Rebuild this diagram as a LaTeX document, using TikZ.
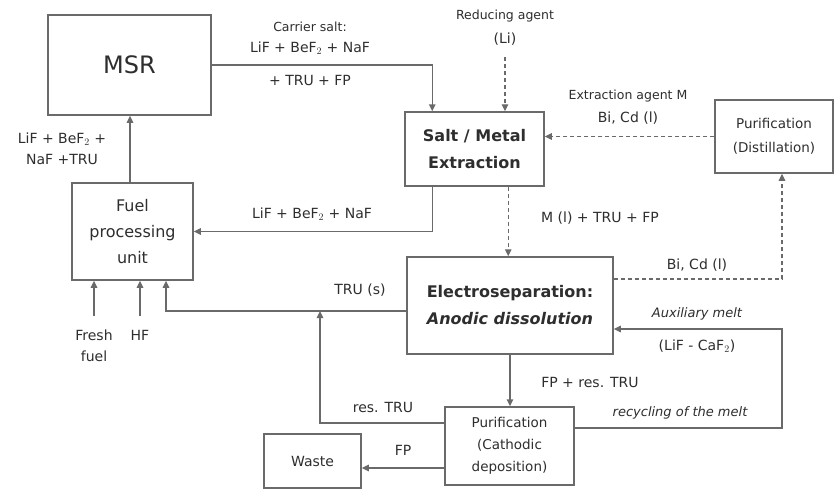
\documentclass[tikz,border=0pt]{standalone}
\usepackage{fontspec}
\setmainfont{DejaVu Sans}
\usetikzlibrary{arrows.meta,calc}
\definecolor{linec}{HTML}{6A6A6A}
\definecolor{txtc}{HTML}{2E2E2E}
\tikzset{
  box/.style={draw=linec,line width=1.5pt,fill=white,align=center,text=txtc,inner sep=2pt},
  lab/.style={text=txtc,align=center,font=\fontsize{14}{21}\selectfont,inner sep=0pt},
  ilab/.style={lab,font=\fontsize{13}{21}\selectfont\itshape},
  arr/.style={draw=linec,line width=1.5pt,-{Triangle[length=7pt,width=6.5pt]}},
  darr/.style={arr,dashed,dash pattern=on 4pt off 3pt,line width=1.1pt},
  dline/.style={draw=linec,dashed,dash pattern=on 4pt off 3pt,line width=1.1pt}
}
\begin{document}
\begin{tikzpicture}[x=1pt,y=-1pt]
\useasboundingbox[fill=white] (0,0) rectangle (837,490);
% boxes
\node[box,minimum width=163pt,minimum height=100pt,font=\fontsize{24}{26}\selectfont] (MSR) at (129.5,65) {MSR};
\node[box,minimum width=139pt,minimum height=74pt,font=\fontsize{16}{27}\selectfont\bfseries] (Salt) at (474.5,149) {Salt / Metal\\Extraction};
\node[box,minimum width=118pt,minimum height=73pt,font=\fontsize{13.5}{24}\selectfont] (Dist) at (774,136.5) {Purification\\(Distillation)};
\node[box,minimum width=121pt,minimum height=97pt,font=\fontsize{16}{26}\selectfont] (Fuel) at (132.5,231.5) {Fuel\\processing\\unit};
\node[box,minimum width=206pt,minimum height=97pt,font=\fontsize{16}{27}\selectfont\bfseries] (Electro) at (510,305.5) {Electroseparation:\\\textit{Anodic dissolution}};
\node[box,minimum width=129pt,minimum height=78pt,font=\fontsize{13.5}{22}\selectfont] (Cath) at (509.5,446) {Purification\\(Cathodic\\deposition)};
\node[box,minimum width=97pt,minimum height=54pt,font=\fontsize{14}{16}\selectfont] (Waste) at (312.5,461) {Waste};
% free labels
\node[lab,font=\fontsize{12.5}{14}\selectfont] (lcarrier) at (310,27) {Carrier salt:};
\node[lab] (lsalt1) at (310,48) {LiF + BeF$_2$ + NaF};
\node[lab] (lsalt2) at (310,80) {+ TRU + FP};
\node[lab,font=\fontsize{12.5}{14}\selectfont] (lred) at (505,16) {Reducing agent};
\node[lab] (lli) at (505,39) {(Li)};
\node[lab,font=\fontsize{12.5}{14}\selectfont] (lext) at (628,96) {Extraction agent M};
\node[lab] (lbicd) at (628,118) {Bi, Cd (l)};
\node[lab] (lm) at (600,218) {M (l) + TRU + FP};
\node[lab] (lret) at (312,214) {LiF + BeF$_2$ + NaF};
\node[lab] (lfuelin) at (62,149) {LiF + BeF$_2$ +\\NaF +TRU};
\node[lab] (lfresh) at (94,346) {Fresh\\fuel};
\node[lab] (lhf) at (140,335) {HF};
\node[lab] (ltru) at (360,290) {TRU (s)};
\node[lab] (lres) at (383,407) {res. TRU};
\node[lab] (lbicd2) at (697,265) {Bi, Cd (l)};
\node[ilab] (laux) at (697,314) {Auxiliary melt};
\node[lab] (lcaf) at (697,346) {(LiF - CaF$_2$)};
\node[lab] (lfpres) at (590,382) {FP + res. TRU};
\node[ilab] (lrec) at (680,413) {recycling of the melt};
\node[lab] (lfp) at (403,450) {FP};
% free ends
\coordinate (redtop) at (505,57);
\coordinate (freshtop) at (94,316);
\coordinate (hftop) at (140,316);
\coordinate (corner) at (782,329);
% connectors
\draw[arr] (MSR.east) -| ($(Salt.north west)+(28,0)$);
\draw[darr] (redtop) -- (redtop |- Salt.north);
\draw[darr] (Dist.west) -- (Dist.west -| Salt.east);
\draw[darr] ($(Salt.south west)+(104,0)$) -- ($(Electro.north west)+(102,0)$);
\draw[arr] ($(Salt.south west)+(28,0)$) |- (Fuel.east);
\draw[arr] (Fuel.north -| 130,0) -- (MSR.south -| 130,0);
\draw[arr] (freshtop) -- (freshtop |- Fuel.south);
\draw[arr] (hftop) -- (hftop |- Fuel.south);
\draw[arr] (Electro.west |- 0,311) -| (Fuel.south -| 166,0);
\draw[arr] (Cath.west |- 0,423) -| (320,311);
\draw[darr] (Electro.east |- 0,279) -| (Dist.south -| 782,0);
\draw[arr] (Cath.east |- 0,428) -| (corner) -- (Electro.east |- corner);
\draw[arr] (Electro.south) -- (Electro.south |- Cath.north);
\draw[arr] (Cath.west |- 0,468) -- (Waste.east |- 0,468);
\end{tikzpicture}
\end{document}
